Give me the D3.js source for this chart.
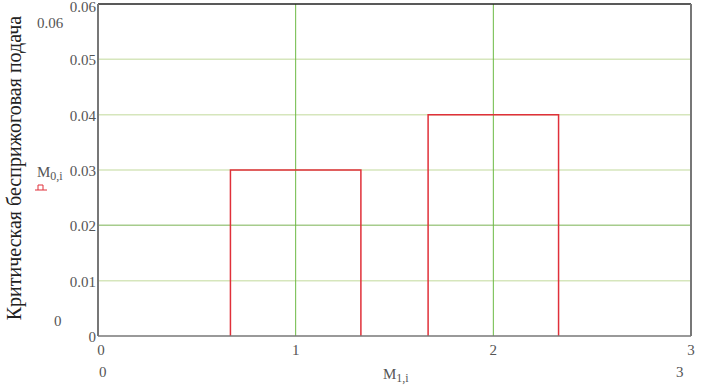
<!DOCTYPE html>
<html>
<head>
<meta charset="utf-8">
<script src="https://cdn.jsdelivr.net/npm/d3@7"></script>
<style>
  body { margin: 0; background: #fff; }
</style>
</head>
<body>
<div id="chart"></div>
<script>
// bars: each step of M0,i plotted against M1,i
var barStarts = [0.67, 1.67]
var barEnds = [1.33, 2.33]
var barValues = [0.03, 0.04]
var xTicks = [0, 1, 2, 3]
var yTicks = [0, 0.01, 0.02, 0.03, 0.04, 0.05, 0.06]
var yTitle = "Критическая бесприжоговая подача"

var width = 708, height = 385
var plot = {left: 98, right: 691, top: 4, bottom: 336}
var serif = "Liberation Serif"

var svg = d3.select("#chart").append("svg")
  .attr("width", width)
  .attr("height", height)

var x = d3.scaleLinear().domain([0, 3]).range([plot.left, plot.right])
var y = d3.scaleLinear().domain([0, 0.06]).range([plot.bottom, plot.top])

function label(g, px, py, txt) {
  return g.append("text").attr("x", px).attr("y", py)
    .attr("font-family", serif).attr("font-size", 15).attr("fill", "#555").text(txt)
}

// horizontal grid
svg.append("g").selectAll("line").data(yTicks.slice(1, -1))
  .enter().append("line")
    .attr("x1", plot.left).attr("x2", plot.right)
    .attr("y1", d => y(d)).attr("y2", d => y(d))
    .attr("stroke", (d, i) => i == 1 ? "#a6cc8c" : "#d6e6bc")
    .attr("stroke-width", 1.5)

// vertical grid
svg.append("g").selectAll("line").data(xTicks.slice(1, -1))
  .enter().append("line")
    .attr("x1", d => x(d)).attr("x2", d => x(d))
    .attr("y1", plot.top).attr("y2", plot.bottom)
    .attr("stroke", "#6cba44")
    .attr("stroke-width", 1)

// steps
var bars = barValues.map((v, i) => ({x0: barStarts[i], x1: barEnds[i], v: v}))
svg.append("g").selectAll("path").data(bars)
  .enter().append("path")
    .attr("d", d => d3.line()([[x(d.x0), y(0)], [x(d.x0), y(d.v)], [x(d.x1), y(d.v)], [x(d.x1), y(0)]]))
    .attr("fill", "none")
    .attr("stroke", "#e0303a")
    .attr("stroke-width", 1.5)

// frame
svg.append("line").attr("x1", plot.left).attr("x2", plot.right).attr("y1", plot.top).attr("y2", plot.top)
  .attr("stroke", "#222").attr("stroke-width", 1.5)
svg.append("line").attr("x1", plot.left).attr("x2", plot.right).attr("y1", plot.bottom).attr("y2", plot.bottom)
  .attr("stroke", "#777").attr("stroke-width", 1.5)
svg.append("line").attr("x1", plot.left).attr("x2", plot.left).attr("y1", plot.top).attr("y2", plot.bottom)
  .attr("stroke", "#777").attr("stroke-width", 2)
svg.append("line").attr("x1", plot.right).attr("x2", plot.right).attr("y1", plot.top).attr("y2", plot.bottom)
  .attr("stroke", "#777").attr("stroke-width", 2)

// y tick labels
var yl = svg.append("g")
yTicks.forEach(function(d) {
  label(yl, plot.left - 2, y(d) + (d == 0.06 ? 8 : 6), d == 0 ? "0" : d3.format(".2f")(d))
    .attr("text-anchor", "end")
})

// x tick labels
var xl = svg.append("g")
xTicks.forEach(function(d) {
  label(xl, d == 0 ? x(d) + 3 : x(d), plot.bottom + 19, d).attr("text-anchor", "middle")
})

// range markers outside the plot (mathcad style)
label(svg, 37, 28, "0.06")
label(svg, 54, 326, "0")
label(svg, 99, 377, "0")
label(svg, 676, 377, "3")

// trace labels
var m0 = label(svg, 37, 177, "")
m0.append("tspan").text("M")
m0.append("tspan").attr("font-size", 12).attr("dy", 3).text("0,i")
svg.append("path")
  .attr("d", "M35,190 H47 M38,190 V185 H43 V190")
  .attr("fill", "none").attr("stroke", "#e0303a").attr("stroke-width", 1)

var m1 = label(svg, 383, 379, "")
m1.append("tspan").text("M")
m1.append("tspan").attr("font-size", 12).attr("dy", 3).text("1,i")

// y title
svg.append("text")
  .attr("transform", "translate(21,168) rotate(-90)")
  .attr("text-anchor", "middle")
  .attr("font-family", serif)
  .attr("font-size", 20)
  .attr("fill", "#222")
  .text(yTitle)
</script>
</body>
</html>
